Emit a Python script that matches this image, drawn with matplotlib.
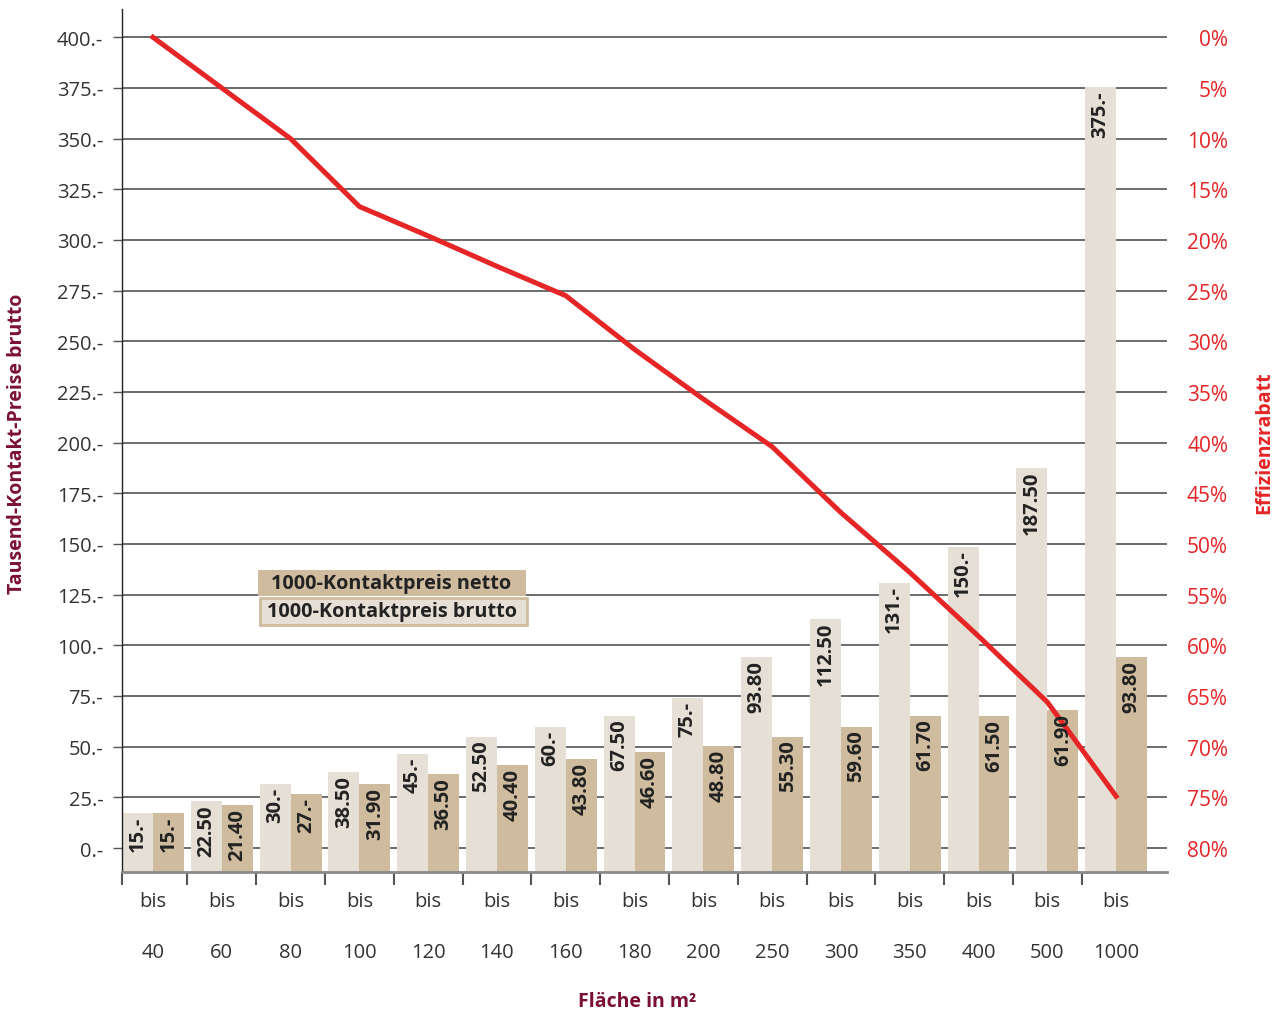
import matplotlib
matplotlib.use('Agg')
import matplotlib.pyplot as plt
import numpy as np
from matplotlib.patches import Rectangle
from matplotlib.transforms import blended_transform_factory

plt.rcParams['font.family'] = ['Open Sans', 'DejaVu Sans']

# Daten
flaeche = ['40', '60', '80', '100', '120', '140', '160', '180', '200', '250', '300', '350', '400', '500', '1000']
brutto_hoehe = [17.3, 23.0, 31.6, 37.4, 46.4, 54.8, 59.8, 65.2, 74.1, 94.3, 113.1, 130.9, 148.6, 187.4, 375.4]
netto_hoehe = [17.3, 21.2, 26.6, 31.6, 36.5, 41.0, 44.0, 47.4, 50.4, 54.8, 59.8, 65.2, 65.2, 68.1, 94.3]
brutto_text = ['15.-', '22.50', '30.-', '38.50', '45.-', '52.50', '60.-', '67.50', '75.-', '93.80', '112.50', '131.-', '150.-', '187.50', '375.-']
netto_text = ['15.-', '21.40', '27.-', '31.90', '36.50', '40.40', '43.80', '46.60', '48.80', '55.30', '59.60', '61.70', '61.50', '61.90', '93.80']
rabatt = [0, 5, 10, 16.7, 19.6, 22.6, 25.5, 30.8, 35.7, 40.4, 46.9, 52.8, 59.1, 65.6, 74.9]
y_ticks = np.arange(0, 401, 25)
r_ticks = np.arange(0, 81, 5)

c_brutto = '#e6dfd5'
c_netto = '#cfbc9f'
c_rot = '#e52526'
c_dunkelrot = '#7b1035'
c_text = '#333333'

fig = plt.figure(figsize=(12.81, 10.12), dpi=100)
ax = fig.add_axes([122/1281, 1 - 873/1012, 1045/1281, 863/1012])
y0, y1 = -11.84, 413.96
ax.set_xlim(-0.45, 14.74)
ax.set_ylim(y0, y1)

x = np.arange(len(flaeche))
w = 0.45

# Gitter
for yt in y_ticks:
    ax.axhline(yt, color='#444444', lw=1.1, zorder=1)

hb = np.array(brutto_hoehe)
hn = np.array(netto_hoehe)
ax.bar(x - w/2, hb - y0, bottom=y0, width=w, color=c_brutto, zorder=2)
ax.bar(x + w/2, hn - y0, bottom=y0, width=w, color=c_netto, zorder=2)

# Achsen
for s in ['top', 'right']:
    ax.spines[s].set_visible(False)
ax.spines['left'].set_color('#222222')
ax.spines['left'].set_linewidth(1.0)
ax.spines['bottom'].set_color('#8a8a8a')
ax.spines['bottom'].set_linewidth(2.0)

ax.set_yticks(y_ticks)
ax.set_yticklabels([f'{int(v)}.-' for v in y_ticks])
ax.tick_params(axis='y', which='major', length=6.5, width=1.0, color='#555555', pad=7,
               labelsize=14.5, labelcolor=c_text)
ax.set_xticks(x)
ax.set_xticklabels([])
ax.tick_params(axis='x', which='major', length=0)
ax.set_xticks([-0.45] + list(x[:-1] + 0.5), minor=True)
ax.tick_params(axis='x', which='minor', length=9, width=1.5, color='#555555', direction='out')

trans = blended_transform_factory(ax.transData, ax.transAxes)
for xi, f in zip(x, flaeche):
    ax.text(xi, -0.0394, 'bis', transform=trans, ha='center', va='baseline', fontsize=14.5, color=c_text)
    ax.text(xi, -0.0985, f, transform=trans, ha='center', va='baseline', fontsize=14.5, color=c_text)

# rechte Achse: Effizienzrabatt
ax2 = ax.twinx()
ax2.set_ylim(82.37, -2.79)
ax2.plot(x, rabatt, color=c_rot, lw=3.6, zorder=5)
for s in ax2.spines.values():
    s.set_visible(False)
ax2.set_yticks(r_ticks)
ax2.set_yticklabels([f'{v}%' for v in r_ticks])
ax2.tick_params(axis='y', length=0, pad=44, labelsize=15, labelcolor=c_rot)
for lab in ax2.get_yticklabels():
    lab.set_horizontalalignment('right')

ax.set_zorder(0)
ax.patch.set_visible(False)
ax2.set_zorder(1)

# Balkenbeschriftung ueber der Linie
for xi, h, t in zip(x - w/2, hb, brutto_text):
    ax2.annotate(t, (xi, h), xycoords=ax.transData, xytext=(0, -2), textcoords='offset points',
                 rotation=90, ha='center', va='top', fontsize=14.5, fontweight='bold', color='#222222', zorder=6)
for xi, h, t in zip(x + w/2, hn, netto_text):
    ax2.annotate(t, (xi, h), xycoords=ax.transData, xytext=(0, -2), textcoords='offset points',
                 rotation=90, ha='center', va='top', fontsize=14.5, fontweight='bold', color='#222222', zorder=6)

# Legende
ax2.add_patch(Rectangle((0.1301, 0.3198), 0.2565, 0.0301, transform=ax.transAxes,
                        facecolor=c_netto, edgecolor='none', zorder=7))
ax2.add_patch(Rectangle((0.1320, 0.2862), 0.2556, 0.0316, transform=ax.transAxes,
                        facecolor=c_brutto, edgecolor=c_netto, lw=2, zorder=7))
ax2.text(0.1430, 0.3349, '1000-Kontaktpreis netto', transform=ax.transAxes, ha='left', va='center',
         fontsize=14.3, fontweight='bold', color='#222222', zorder=8)
ax2.text(0.1390, 0.3020, '1000-Kontaktpreis brutto', transform=ax.transAxes, ha='left', va='center',
         fontsize=14.3, fontweight='bold', color='#222222', zorder=8)

fig.text(17.5/1281, 1 - 444/1012, 'Tausend-Kontakt-Preise brutto', rotation=90, ha='center', va='center',
         fontsize=14, fontweight='bold', color=c_dunkelrot)
fig.text(1264/1281, 1 - 443/1012, 'Effizienzrabatt', rotation=90, ha='center', va='center',
         fontsize=14, fontweight='bold', color=c_rot)
fig.text(637/1281, 1 - 1007/1012, 'Fläche in m²', ha='center', va='baseline',
         fontsize=14, fontweight='bold', color=c_dunkelrot)

fig.savefig('out.png', dpi=100)
